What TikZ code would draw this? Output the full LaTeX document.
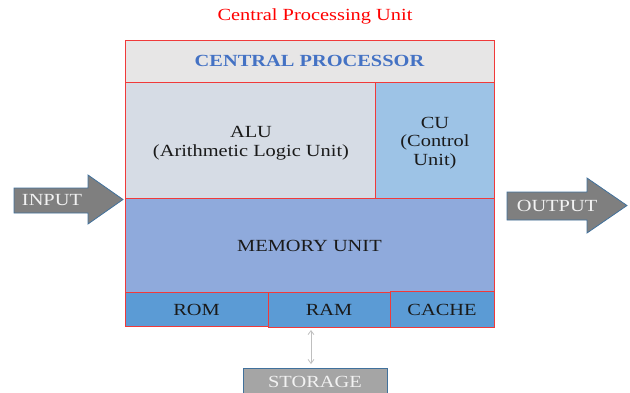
\documentclass[tikz,border=0pt]{standalone}
\usepackage{fontspec}
\setmainfont[FakeStretch=1.2]{Liberation Serif}
\usetikzlibrary{arrows.meta}
\definecolor{boxred}{HTML}{F03A3A}
\definecolor{cpfill}{HTML}{E7E6E6}
\definecolor{cptext}{HTML}{4472C4}
\definecolor{alufill}{HTML}{D6DCE5}
\definecolor{cufill}{HTML}{9DC3E6}
\definecolor{memfill}{HTML}{8FAADC}
\definecolor{romfill}{HTML}{5B9BD5}
\definecolor{arrfill}{HTML}{7F7F7F}
\definecolor{arrborder}{HTML}{41719C}
\definecolor{stfill}{HTML}{A5A5A5}
\definecolor{txt}{HTML}{1A1A1A}
\definecolor{lighttxt}{HTML}{F2F2F2}
\definecolor{dblgray}{HTML}{BFBFBF}
\newcommand{\fs}{\fontsize{17}{18.5}\selectfont}
\begin{document}
\begin{tikzpicture}[x=1pt,y=-1pt,
  cell/.style={draw=boxred, line width=0.8pt, inner sep=0pt, outer sep=0pt,
    anchor=north west, font=\fs, text=txt, align=center},
  bigarrow/.style={fill=arrfill, draw=arrborder, line width=0.8pt},
  arrtext/.style={font=\fs, text=lighttxt, inner sep=0pt},
  link/.style={draw=dblgray, line width=0.8pt, {Straight Barb[length=4pt,width=6pt]}-{Straight Barb[length=4pt,width=6pt]}}
]
\useasboundingbox (0,0) rectangle (630,392);
\clip (0,0) rectangle (630,392);

\node[font=\fs, text=red, inner sep=0pt] (title) at (315,16) {Central Processing Unit};

\node[cell, fill=cpfill, minimum width=369pt, minimum height=42.5pt,
  text=cptext, font=\fs\bfseries] (cp) at (125,40) {CENTRAL PROCESSOR};
\node[cell, fill=alufill, minimum width=250pt, minimum height=116pt] (alu) at (125,82.5) {};
\node[font=\fs, text=txt, align=center, inner sep=0pt] (alutext) at (251,143) {ALU\\(Arithmetic Logic Unit)};
\node[cell, fill=cufill, minimum width=119pt, minimum height=116pt] (cu) at (375,82.5) {};
\node[font=\fs, text=txt, align=center, inner sep=0pt] (cutext) at (435,143) {CU\\(Control\\Unit)};
\node[cell, fill=memfill, minimum width=369pt, minimum height=94pt] (mem) at (125,198.5) {MEMORY UNIT};
\node[cell, fill=romfill, minimum width=143pt, minimum height=34pt] (rom) at (125,292.5) {ROM};
\node[cell, fill=romfill, minimum width=122pt, minimum height=35pt] (ram) at (268,292.5) {RAM};
\node[cell, fill=romfill, minimum width=104pt, minimum height=36pt] (cache) at (390,291.5) {CACHE};

\node[cell, draw=arrborder, fill=stfill, text=lighttxt, minimum width=144pt, minimum height=26pt] (storage) at (243,368.5) {STORAGE};
\draw[link] ([xshift=-4pt,yshift=-2.5pt]storage.north |- ram.south) -- ([xshift=-4pt,yshift=4.5pt]storage.north);

\draw[bigarrow] (14,188) -- (88,188) -- (88,175) -- (123,199.5) -- (88,224) -- (88,213) -- (14,213) -- cycle;
\node[arrtext] (input) at (52,200.5) {INPUT};

\draw[bigarrow] (507,192) -- (587,192) -- (587,178) -- (627,205.5) -- (587,233) -- (587,220) -- (507,220) -- cycle;
\node[arrtext] (output) at (557,206) {OUTPUT};
\end{tikzpicture}
\end{document}
